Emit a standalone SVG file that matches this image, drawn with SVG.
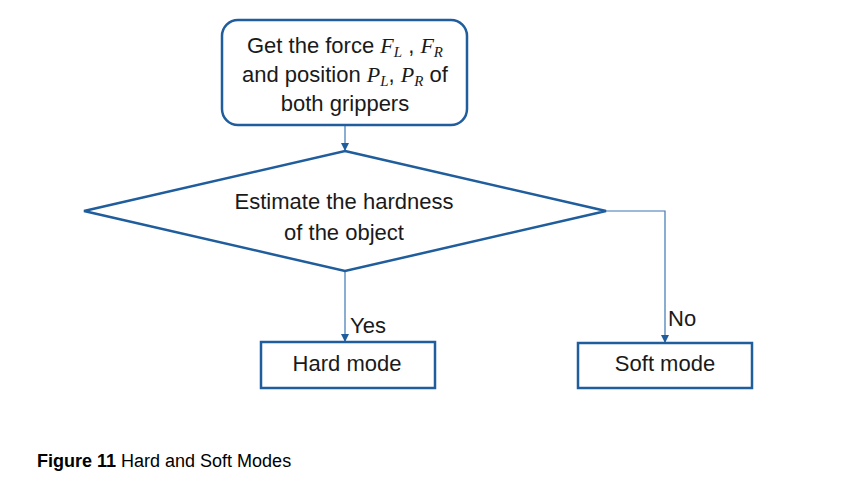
<svg xmlns="http://www.w3.org/2000/svg" width="847" height="500" viewBox="0 0 847 500">
<style>
.shape{fill:#fff;stroke:#1f5d9c;stroke-width:2.5}
.t{font-family:"Liberation Sans",Arial,sans-serif;font-size:22px;fill:#1a1a1a}
.m{font-family:"Liberation Serif","Times New Roman",serif;font-style:italic}
.s{font-size:15px}
.c{fill:none;stroke:#3c78b4;stroke-width:1.2}
.cap{font-family:"Liberation Sans",Arial,sans-serif;font-size:18px;fill:#000}
</style>
<defs>
<marker id="a" markerWidth="10" markerHeight="10" refX="9" refY="5" orient="auto" markerUnits="userSpaceOnUse" viewBox="0 0 10 10">
<path d="M1,1 L9,5 L1,9 Z" fill="#1f5d9c"/>
</marker>
</defs>
<rect width="847" height="500" fill="#fff"/>
<g id="connectors">
<path class="c" d="M345,125 V151" marker-end="url(#a)"/>
<path class="c" d="M345,271 V342" marker-end="url(#a)"/>
<path class="c" d="M606,211 H665 V343" marker-end="url(#a)"/>
<text class="t" x="350" y="333">Yes</text>
<text class="t" x="668" y="326">No</text>
</g>
<g id="start">
<rect class="shape" x="222" y="20" width="245" height="105" rx="16"/>
<text class="t" text-anchor="middle" x="345" y="53">Get the force <tspan class="m">F</tspan><tspan class="m s" dy="4">L</tspan><tspan dy="-4"> , </tspan><tspan class="m">F</tspan><tspan class="m s" dy="4">R</tspan></text>
<text class="t" text-anchor="middle" x="345" y="82">and position <tspan class="m">P</tspan><tspan class="m s" dy="4">L</tspan><tspan dy="-4">, </tspan><tspan class="m">P</tspan><tspan class="m s" dy="4">R</tspan><tspan dy="-4"> of</tspan></text>
<text class="t" text-anchor="middle" x="345" y="111">both grippers</text>
</g>
<g id="decision">
<polygon class="shape" points="345,151 606,211 345,271 84,211"/>
<text class="t" text-anchor="middle" x="344" y="209">Estimate the hardness</text>
<text class="t" text-anchor="middle" x="344" y="240">of the object</text>
</g>
<g id="hard">
<rect class="shape" x="261" y="342" width="174" height="46"/>
<text class="t" text-anchor="middle" x="347" y="371">Hard mode</text>
</g>
<g id="soft">
<rect class="shape" x="578" y="343" width="174" height="45"/>
<text class="t" text-anchor="middle" x="665" y="371">Soft mode</text>
</g>
<text class="cap" x="37" y="467"><tspan font-weight="bold">Figure 11</tspan> Hard and Soft Modes</text>
</svg>
